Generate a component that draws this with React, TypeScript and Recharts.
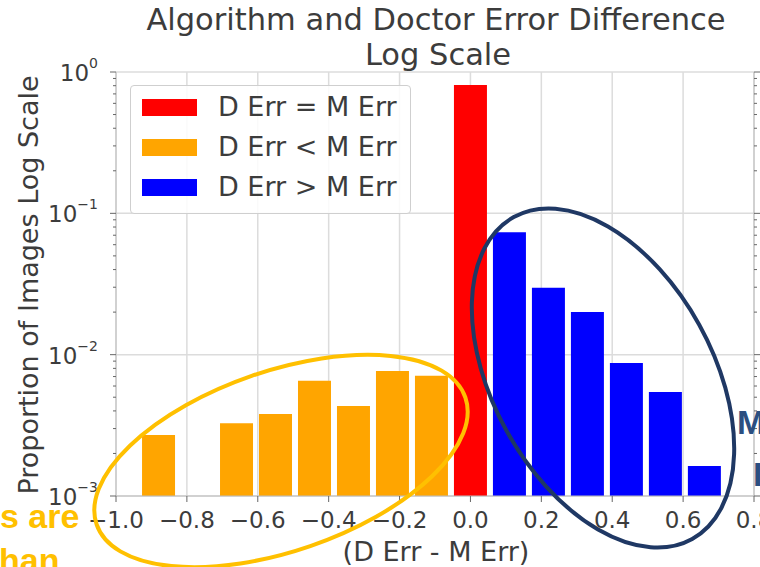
import React from 'react'
import { BarChart, Bar, Cell, XAxis, YAxis, CartesianGrid, Legend } from 'recharts'

// histogram bins of (D Err - M Err)
const binCenters = [-0.88, -0.66, -0.55, -0.44, -0.33, -0.22, -0.11, 0, 0.11, 0.22, 0.33, 0.44, 0.55, 0.66]
const proportions = [0.0027, 0.00327, 0.0038, 0.00654, 0.00433, 0.00766, 0.0071, 0.809, 0.0734, 0.0298, 0.02, 0.00873, 0.00544, 0.00163]
const binGroups = ['less', 'less', 'less', 'less', 'less', 'less', 'less', 'equal', 'greater', 'greater', 'greater', 'greater', 'greater', 'greater']

const legendKeys = ['equal', 'less', 'greater']
const legendLabels = ['D Err = M Err', 'D Err < M Err', 'D Err > M Err']
const groupColors: Record<string, string> = { equal: '#ff0000', less: '#ffa500', greater: '#0000ff' }

const xTicks = [-1.0, -0.8, -0.6, -0.4, -0.2, 0.0, 0.2, 0.4, 0.6, 0.8]
const yMajorTicks = [0.001, 0.01, 0.1, 1]
const yExponents = ['\u22123', '\u22122', '\u22121', '0']
const yMinorTicks = [
  0.002, 0.003, 0.004, 0.005, 0.006, 0.007, 0.008, 0.009,
  0.02, 0.03, 0.04, 0.05, 0.06, 0.07, 0.08, 0.09,
  0.2, 0.3, 0.4, 0.5, 0.6, 0.7, 0.8, 0.9,
]

const data = binCenters.map((x, i) => ({ x, value: proportions[i], group: binGroups[i] }))

const FONT = '"DejaVu Sans", sans-serif'
const TEXT = '#3c3c3c'
const FRAME = '#bdbdbd'
const TICK = '#666'
const GOLD = '#ffc000'
const NAVY = '#1f3864'

const fmtX = (v: number) => {
  const s = Math.abs(v).toFixed(1)
  return v < 0 ? '\u2212' + s : s
}

function LeftTick({ x, y, payload }: any) {
  const i = yMajorTicks.indexOf(payload.value)
  if (i < 0) return <line x1={x - 3} x2={x} y1={y} y2={y} stroke={TICK} />
  return (
    <g>
      <line x1={x - 6} x2={x} y1={y} y2={y} stroke={TICK} />
      <text x={x - 18} y={y + 9} textAnchor="end" fontSize={23} fill={TEXT} fontFamily={FONT}>
        10<tspan fontSize={14} dy={-13}>{yExponents[i]}</tspan>
      </text>
    </g>
  )
}

function RightTick({ x, y, payload }: any) {
  const len = yMajorTicks.includes(payload.value) ? 6 : 3
  return <line x1={x} x2={x + len} y1={y} y2={y} stroke={TICK} />
}

function LegendBox() {
  return (
    <div
      style={{
        width: 279,
        height: 127,
        border: '1px solid #cfcfcf',
        borderRadius: 4,
        background: 'rgba(255,255,255,0.85)',
        position: 'relative',
        fontFamily: FONT,
        fontSize: 27,
        color: TEXT,
      }}
    >
      {legendKeys.map((k, i) => (
        <div key={k}>
          <div style={{ position: 'absolute', left: 11, top: 13 + i * 40, width: 55, height: 17, background: groupColors[k] }} />
          <div style={{ position: 'absolute', left: 87, top: 5 + i * 40, lineHeight: '32px', whiteSpace: 'nowrap' }}>
            {legendLabels[i]}
          </div>
        </div>
      ))}
    </div>
  )
}

export default function App() {
  return (
    <div style={{ position: 'absolute', left: 0, top: 0, width: 760, height: 567, background: '#fff' }}>
      <BarChart width={760} height={567} data={data} margin={{ top: 72, right: 0, bottom: 0, left: 0 }}>
        <CartesianGrid stroke="#dcdcdc" strokeWidth={1.5} horizontalValues={yMajorTicks} />
        <XAxis
          dataKey="x"
          type="number"
          domain={[-1, 0.8]}
          ticks={xTicks}
          allowDataOverflow
          interval={0}
          height={71}
          tickFormatter={fmtX}
          tick={{ fontSize: 23, fill: TEXT, fontFamily: FONT }}
          tickSize={6}
          tickMargin={10}
          tickLine={{ stroke: TICK }}
          axisLine={{ stroke: FRAME }}
        />
        <XAxis
          xAxisId="top"
          orientation="top"
          type="number"
          domain={[-1, 0.8]}
          ticks={xTicks}
          allowDataOverflow
          interval={0}
          height={0}
          tick={false}
          tickSize={6}
          tickLine={{ stroke: TICK }}
          axisLine={{ stroke: FRAME }}
        />
        <YAxis
          scale="log"
          type="number"
          domain={[0.001, 1]}
          allowDataOverflow
          ticks={[...yMajorTicks, ...yMinorTicks]}
          interval={0}
          width={116}
          tick={<LeftTick />}
          tickLine={false}
          tickSize={0}
          tickMargin={0}
          axisLine={{ stroke: FRAME }}
        />
        <YAxis
          yAxisId="right"
          orientation="right"
          scale="log"
          type="number"
          domain={[0.001, 1]}
          allowDataOverflow
          ticks={[...yMajorTicks, ...yMinorTicks]}
          interval={0}
          width={6}
          tick={<RightTick />}
          tickLine={false}
          tickSize={0}
          tickMargin={0}
          axisLine={{ stroke: FRAME }}
        />
        <Legend
          layout="vertical"
          align="center"
          verticalAlign="middle"
          content={<LegendBox />}
          wrapperStyle={{ left: 130, top: 85, width: 281, height: 129 }}
        />
        <Bar dataKey="value" barSize={33} isAnimationActive={false}>
          {data.map((d, i) => (
            <Cell key={i} fill={groupColors[d.group]} />
          ))}
        </Bar>
      </BarChart>

      <svg
        width={760}
        height={567}
        style={{ position: 'absolute', left: 0, top: 0, pointerEvents: 'none' }}
      >
        <g fontFamily={FONT} fill={TEXT}>
          <text x={436} y={30} fontSize={30.5} textAnchor="middle">Algorithm and Doctor Error Difference</text>
          <text x={438} y={65} fontSize={30.5} textAnchor="middle">Log Scale</text>
          <text x={436} y={561} fontSize={27} textAnchor="middle">(D Err - M Err)</text>
          <text x={38} y={285} fontSize={27} textAnchor="middle" transform="rotate(-90 38 285)">
            Proportion of Images Log Scale
          </text>
        </g>

        {/* highlight rings */}
        <ellipse cx={281} cy={461} rx={195} ry={90} transform="rotate(-19 281 461)" fill="none" stroke={GOLD} strokeWidth={4} />
        <ellipse cx={603} cy={378} rx={184} ry={110} transform="rotate(61 603 378)" fill="none" stroke={NAVY} strokeWidth={4} />

        <g fontFamily='"Liberation Sans", Arial, sans-serif' fontWeight="bold" fontSize={34}>
          <text x={0} y={528} fill={GOLD}>s are</text>
          <text x={-1} y={572} fill={GOLD}>han</text>
          <text x={737} y={434} fill="#2b4f80">M</text>
          <text x={753} y={486} fill="#2b4f80">I</text>
        </g>
      </svg>
    </div>
  )
}
